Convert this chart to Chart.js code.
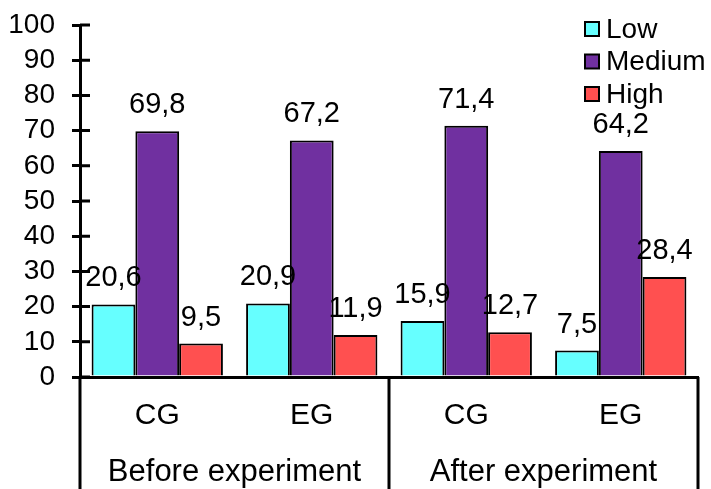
<!DOCTYPE html>
<html>
<head>
<meta charset="utf-8">
<script src="https://cdn.jsdelivr.net/npm/chart.js@4"></script>
<style>
  body { margin: 0; background: #fff; }
</style>
</head>
<body>
<canvas id="my-chart" width="711" height="489"></canvas>
<script>
const categories = ['CG', 'EG', 'CG', 'EG'];
const groups = ['Before experiment', 'After experiment'];
const seriesNames = ['Low', 'Medium', 'High'];
const low = [20.6, 20.9, 15.9, 7.5];
const medium = [69.8, 67.2, 71.4, 64.2];
const high = [9.5, 11.9, 12.7, 28.4];
const yTicks = [0, 10, 20, 30, 40, 50, 60, 70, 80, 90, 100];

const FONT = '"Liberation Sans", Arial, sans-serif';

// value labels above the bars, decimal comma
const valueLabels = {
  id: 'valueLabels',
  afterDatasetsDraw(chart) {
    const ctx = chart.ctx;
    ctx.save();
    ctx.font = '29px ' + FONT;
    ctx.fillStyle = '#000';
    ctx.textAlign = 'center';
    ctx.textBaseline = 'alphabetic';
    chart.data.datasets.forEach((ds, i) => {
      chart.getDatasetMeta(i).data.forEach((bar, j) => {
        ctx.fillText(String(ds.data[j]).replace('.', ','), bar.x, bar.y - 18);
      });
    });
    ctx.restore();
  }
};

// inner tick marks, group separators, group labels, legend
const decorations = {
  id: 'decorations',
  afterDraw(chart) {
    const ctx = chart.ctx;
    const area = chart.chartArea;
    const x = chart.scales.x;
    const y = chart.scales.y;
    ctx.save();
    ctx.strokeStyle = '#000';
    ctx.lineWidth = 3;
    ctx.beginPath();
    y.ticks.forEach(t => {
      const py = y.getPixelForValue(t.value);
      ctx.moveTo(area.left, py);
      ctx.lineTo(area.left + 10, py);
    });
    const mid = (x.getPixelForValue(1) + x.getPixelForValue(2)) / 2;
    [area.left, mid, area.right].forEach(px => {
      ctx.moveTo(px, area.bottom);
      ctx.lineTo(px, chart.height);
    });
    ctx.stroke();

    ctx.font = '31px ' + FONT;
    ctx.fillStyle = '#000';
    ctx.textAlign = 'center';
    ctx.textBaseline = 'middle';
    ctx.fillText(groups[0], (area.left + mid) / 2, 472);
    ctx.fillText(groups[1], (mid + area.right) / 2, 472);

    // legend
    ctx.font = '28px ' + FONT;
    ctx.textAlign = 'left';
    chart.data.datasets.forEach((ds, i) => {
      const cy = 29 + i * 32.5;
      ctx.fillStyle = ds.backgroundColor;
      ctx.fillRect(585, cy - 7, 14, 14);
      ctx.lineWidth = 2;
      ctx.strokeRect(585, cy - 7, 14, 14);
      ctx.fillStyle = '#000';
      ctx.fillText(ds.label, 606, cy + 1);
    });
    ctx.restore();
  }
};

const ctx = document.getElementById('my-chart');
const myChart = new Chart(ctx, {
  type: 'bar',
  data: {
    labels: categories,
    datasets: [
      { label: seriesNames[0], data: low, backgroundColor: '#66FFFF' },
      { label: seriesNames[1], data: medium, backgroundColor: '#7030A0' },
      { label: seriesNames[2], data: high, backgroundColor: '#FF5050' }
    ].map(d => Object.assign(d, {
      borderColor: '#000',
      borderWidth: 2,
      categoryPercentage: 0.85,
      barPercentage: 1
    }))
  },
  options: {
    responsive: false,
    animation: false,
    layout: { padding: { top: 25, right: 13, left: 0, bottom: 0 } },
    plugins: {
      legend: { display: false },
      tooltip: { enabled: false }
    },
    scales: {
      x: {
        grid: { display: false, drawTicks: false },
        border: { display: true, color: '#000', width: 3 },
        ticks: { color: '#000', font: { family: FONT, size: 30 }, padding: 21 },
        afterFit(scale) { scale.height = 112; }
      },
      y: {
        min: 0,
        max: 100,
        afterBuildTicks(scale) { scale.ticks = yTicks.map(v => ({ value: v })); },
        grid: { drawOnChartArea: false, drawTicks: true, tickLength: 8, color: '#000', lineWidth: 3 },
        border: { display: true, color: '#000', width: 3 },
        ticks: { color: '#000', font: { family: FONT, size: 28 }, padding: 17, autoSkip: false },
        afterFit(scale) {
          scale.width = 80;
          scale.paddingTop = 0;
          scale.paddingBottom = 0;
        }
      }
    }
  },
  plugins: [valueLabels, decorations]
});
</script>
</body>
</html>
